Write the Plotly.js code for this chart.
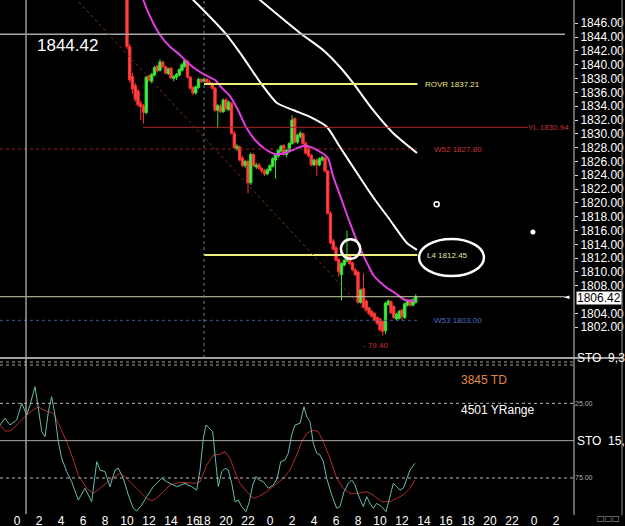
<!DOCTYPE html>
<html><head><meta charset="utf-8">
<script src="https://cdn.plot.ly/plotly-3.0.1.min.js"></script>
<style>html,body{margin:0;padding:0;background:#000;}#chart{width:625px;height:526px;}</style>
</head><body><div id="chart"></div>
<script>
// ---- 15-minute candles (hours on a trading-time axis, 17:00 break removed) ----
const barStartHour = 10;
const barStepHours = 0.25;
const opens = [1853.0,1842.6,1838.3,1837.0,1836.2,1834.4,1834.0,1833.1,1838.4,1837.6,
1838.5,1839.8,1839.2,1840.4,1839.7,1838.7,1839.5,1838.0,1838.2,1838.5,
1839.2,1839.7,1840.5,1838.2,1836.7,1835.9,1836.7,1837.9,1837.6,1837.9,
1837.5,1837.3,1836.6,1833.4,1834.0,1833.2,1834.9,1833.5,1834.4,1830.1,
1827.8,1828.1,1826.5,1825.4,1826.0,1822.9,1827.0,1825.2,1825.5,1825.0,
1824.6,1824.2,1824.7,1825.3,1826.2,1826.8,1827.5,1828.3,1827.0,1827.5,
1828.6,1832.2,1828.8,1829.6,1830.0,1828.6,1827.9,1826.9,1825.5,1826.2,
1825.5,1826.2,1826.5,1824.6,1818.5,1814.5,1813.5,1811.8,1809.6,1811.0,
1811.6,1812.4,1811.3,1810.3,1810.0,1805.6,1807.6,1805.8,1804.8,1804.3,
1804.0,1803.4,1803.2,1802.8,1801.5,1805.3,1805.7,1805.0,1803.2,1803.3,
1804.5,1803.4,1805.2,1805.9,1805.2,1805.6];
const highs = [1853.5,1843.0,1838.8,1837.4,1836.5,1834.8,1834.3,1838.4,1838.6,1838.8,
1839.8,1840.0,1840.8,1840.6,1839.9,1839.6,1839.7,1838.5,1838.8,1839.5,
1840.2,1840.9,1840.7,1838.4,1836.9,1837.0,1838.1,1838.0,1838.2,1838.1,
1837.8,1837.5,1836.8,1834.3,1834.3,1835.1,1835.2,1834.8,1834.6,1830.4,
1828.5,1828.3,1826.8,1826.2,1826.3,1827.3,1827.2,1825.8,1825.8,1825.2,
1824.9,1825.0,1825.6,1826.6,1827.1,1827.8,1828.4,1828.5,1827.8,1828.8,
1832.7,1832.4,1830.0,1830.4,1830.2,1828.9,1828.1,1827.1,1826.4,1826.4,
1826.6,1826.8,1826.7,1824.8,1818.8,1814.8,1813.8,1812.0,1811.4,1811.9,
1816.0,1812.6,1811.5,1810.6,1810.2,1807.6,1809.8,1806.0,1805.0,1804.5,
1804.2,1803.6,1803.4,1803.0,1805.7,1806.0,1805.9,1805.2,1804.1,1804.5,
1804.7,1805.6,1806.0,1806.1,1806.2,1806.8];
const lows = [1842.2,1837.4,1835.8,1834.6,1833.9,1832.0,1831.5,1832.8,1837.5,1837.3,
1838.3,1838.9,1839.0,1839.5,1838.6,1838.5,1837.9,1837.6,1837.8,1838.3,
1839.0,1839.6,1838.0,1836.4,1835.6,1835.7,1836.5,1837.3,1837.4,1837.2,
1837.0,1836.4,1833.2,1830.8,1833.0,1833.0,1833.4,1833.3,1829.9,1827.8,
1827.5,1826.0,1825.2,1825.1,1821.4,1822.6,1825.2,1824.9,1824.8,1824.3,
1823.9,1824.0,1824.5,1825.1,1823.5,1826.5,1827.3,1826.8,1826.6,1827.3,
1828.4,1828.6,1828.5,1829.3,1828.4,1827.0,1826.6,1825.3,1825.3,1823.9,
1825.3,1826.0,1824.4,1818.3,1814.0,1813.1,1811.5,1809.3,1805.9,1810.8,
1811.4,1811.0,1810.1,1809.4,1805.4,1805.4,1804.7,1804.3,1803.8,1803.4,
1802.8,1802.3,1801.4,1800.8,1801.0,1805.1,1803.9,1803.2,1802.9,1803.1,
1803.0,1803.2,1805.0,1805.0,1805.0,1805.4];
const closes = [1842.6,1837.8,1836.5,1835.0,1834.2,1833.9,1833.1,1838.2,1837.8,1838.6,
1839.6,1839.1,1840.4,1839.7,1838.8,1839.4,1838.1,1838.3,1838.6,1839.3,
1840.0,1840.6,1838.2,1836.6,1835.9,1836.8,1837.9,1837.6,1837.9,1837.5,
1837.3,1836.6,1833.4,1834.1,1833.2,1834.9,1833.6,1834.6,1830.1,1828.0,
1828.2,1826.2,1825.4,1826.0,1822.9,1827.0,1825.4,1825.5,1825.0,1824.6,
1824.2,1824.8,1825.4,1826.4,1826.9,1827.6,1828.2,1827.0,1827.6,1828.6,
1832.0,1828.8,1829.8,1830.1,1828.6,1827.2,1826.8,1825.5,1826.2,1825.5,
1826.4,1826.6,1824.6,1818.5,1814.2,1813.3,1811.7,1810.0,1811.2,1811.7,
1812.5,1811.2,1810.3,1809.6,1805.6,1807.4,1804.9,1804.5,1804.0,1803.6,
1803.0,1802.5,1801.6,1801.4,1805.5,1805.8,1804.1,1803.4,1803.9,1804.3,
1803.6,1805.4,1805.8,1805.2,1806.0,1806.42];

// ---- moving averages (hour, price) ----
const maPinkHours = [11.27,11.48,12.39,13.0,13.91,14.82,15.45,16.36,17.27,18.0,18.64,19.36,20.09,20.82,21.64,22.55,23.45,24.36,25.27,26.18,26.91,27.73,28.27,28.73,29.36,30.0,30.55,31.18,31.82,32.45,33.0,33.64,34.36,35.27,36.18];
const maPinkPrices = [1850.53,1849.37,1846.0,1844.31,1842.61,1841.41,1840.40,1839.24,1838.37,1837.79,1836.63,1835.47,1833.45,1830.99,1829.11,1827.80,1827.08,1827.22,1827.80,1828.31,1827.95,1827.22,1826.50,1823.90,1821.15,1818.25,1815.93,1813.47,1811.30,1809.42,1808.55,1807.68,1806.96,1805.94,1805.80];
const maWhite1Hours = [15.55,16.64,18.91,20.55,22.09,23.64,25.09,26.64,28.18,29.36,30.91,32.36,33.91,35.45,36.36];
const maWhite1Prices = [1850.1,1848.4,1844.6,1841.1,1837.5,1834.46,1833.45,1832.44,1830.99,1828.09,1824.33,1820.86,1817.53,1814.2,1813.2];
const maWhite2Hours = [21.55,22.09,25.73,27.82,29.36,30.55,32.36,34.18,36.36];
const maWhite2Prices = [1850.1,1849.37,1844.6,1842.13,1839.67,1837.36,1833.45,1830.12,1827.22];

// ---- stochastic (hour, value) ----
const stoKHours = [-1.55,-1.09,-0.64,-0.03,0.43,0.88,1.18,1.64,1.94,2.25,2.55,2.85,3.15,3.45,3.75,4.06,4.52,4.97,5.57,6.18,6.79,7.25,7.55,8.0,8.45,8.91,9.21,9.66,10.12,10.57,10.88,11.34,11.79,12.39,13.15,13.61,14.52,15.27,15.88,16.34,16.64,16.94,17.18,17.48,17.79,18.0,18.3,18.61,18.91,19.21,19.52,19.82,20.12,20.43,20.82,21.12,21.43,21.73,22.03,22.39,22.85,23.3,23.66,23.97,24.36,24.66,24.97,25.27,25.73,26.09,26.34,26.64,26.94,27.25,27.55,27.85,28.15,28.61,29.06,29.36,29.73,30.12,30.43,30.73,31.03,31.48,31.79,32.09,32.39,32.7,33.15,33.55,33.91,34.21,34.52,34.82,35.12,35.43,35.73,36.18];
const stoKValues = [39.5,35.0,39.5,36.2,25.0,32.8,26.1,13.9,28.3,44.0,47.4,30.6,20.6,32.8,50.7,61.8,70.8,77.5,89.8,81.9,90.9,64.1,69.7,70.8,80.8,69.7,68.5,75.2,86.4,95.3,97.1,93.1,87.5,80.8,75.2,77.5,80.8,78.6,80.8,83.1,69.7,48.4,39.5,41.7,44.0,59.6,80.8,70.8,68.5,69.7,78.6,90.9,89.8,94.2,97.6,90.9,79.7,74.1,76.4,77.5,81.9,79.7,75.2,64.1,63.0,58.5,46.2,39.5,38.4,27.3,34.0,37.3,51.8,58.5,59.6,64.1,75.2,86.4,95.3,94.2,84.2,78.6,76.4,79.7,86.4,94.2,87.5,92.0,95.3,92.0,94.2,97.6,87.5,78.6,80.8,83.1,81.9,75.2,69.7,65.2];
const stoDHours = [-1.55,-1.09,-0.64,-0.18,0.27,0.88,1.48,1.94,2.39,3.3,3.91,4.52,4.97,5.57,6.34,6.94,7.55,8.45,9.36,9.97,10.88,11.79,12.25,12.7,13.3,13.91,14.82,15.73,16.34,16.64,17.25,17.85,18.45,18.91,19.36,19.82,20.27,20.88,21.48,21.94,22.7,23.45,24.21,24.82,25.43,25.88,26.34,26.94,27.39,27.85,28.45,29.06,29.66,30.27,31.03,31.79,32.39,33.15,33.91,34.52,35.12,35.73,36.18];
const stoDValues = [39.5,43.5,43.5,40.7,37.3,32.8,29.5,27.3,29.5,31.7,40.7,50.7,59.6,73.0,81.9,85.3,81.9,76.4,71.9,75.2,81.9,88.6,90.2,88.6,84.2,79.7,77.9,78.6,78.6,77.5,66.3,59.6,59.1,57.4,61.8,70.8,78.6,84.2,88.6,87.5,84.2,79.7,75.2,69.7,59.6,50.7,45.1,42.9,44.0,50.7,61.8,75.2,81.9,85.3,85.3,84.2,86.4,90.9,90.9,88.6,86.4,81.9,76.4];

// ---- axis ticks ----
const timeTickHours = [-1.4,0,2,4,6,8,10,12,14,16,17,19,21,23,25,27,29,31,33,35,37,39,41,43,45,47,49];
const timeTickLabels = ['2','0','2','4','6','8','10','12','14','16','18','20','22','0','2','4','6','8','10','12','14','16','18','20','22','0','2'];
const priceTicks = [1802,1804,1808,1810,1812,1814,1816,1818,1820,1822,1824,1826,1828,1830,1832,1834,1836,1838,1840,1842,1844,1846];
const stoTicks = [25,75];
const stoTickLabels = ['25.00','75.00'];

// ---- levels ----
const crossPrice = 1844.42, crossHour = 0.82;
const lastPrice = 1806.42;
const rovr = 1837.21, yl = 1830.94, w52 = 1827.80, l4 = 1812.45, w53 = 1803.00;
const sessionBreakHour = 17;

const barTimes = opens.map((_, i) => barStartHour + i * barStepHours);
const lastHour = barTimes[barTimes.length - 1];
const FONT = 'Liberation Sans, Arial, sans-serif';

// page geometry helpers (pixels -> paper fractions)
const H = 526, PLOT_BOTTOM = 512, PLOT_RIGHT = 574;
const py = p => (PLOT_BOTTOM - p) / PLOT_BOTTOM;
const px = p => p / PLOT_RIGHT;

const traces = [
  {type:'candlestick', x:barTimes, open:opens, high:highs, low:lows, close:closes,
   increasing:{line:{color:'#33e033', width:1}, fillcolor:'#44f044'},
   decreasing:{line:{color:'#ff3030', width:1}, fillcolor:'#ff4a4a'},
   whiskerwidth:0, hoverinfo:'skip', xaxis:'x', yaxis:'y'},
  {type:'scatter', mode:'lines', x:maPinkHours, y:maPinkPrices, line:{color:'#e23de2', width:2, shape:'spline', smoothing:0.6}, hoverinfo:'skip'},
  {type:'scatter', mode:'lines', x:maWhite1Hours, y:maWhite1Prices, line:{color:'#ffffff', width:2, shape:'spline', smoothing:0.6}, hoverinfo:'skip'},
  {type:'scatter', mode:'lines', x:maWhite2Hours, y:maWhite2Prices, line:{color:'#ffffff', width:2, shape:'spline', smoothing:0.6}, hoverinfo:'skip'},
  {type:'scatter', mode:'markers', x:[38.15], y:[1819.8], marker:{symbol:'circle-open', size:5, color:'#ffffff', line:{width:1.5}}, hoverinfo:'skip'},
  {type:'scatter', mode:'markers', x:[46.9], y:[1815.8], marker:{symbol:'circle', size:5, color:'#ffffff'}, hoverinfo:'skip'},
  {type:'scatter', mode:'lines', x:stoDHours, y:stoDValues, yaxis:'y2', line:{color:'#b02c2c', width:1}, hoverinfo:'skip'},
  {type:'scatter', mode:'lines', x:stoKHours, y:stoKValues, yaxis:'y2', line:{color:'#66bcb0', width:1}, hoverinfo:'skip'}
];

const mainBottom = py(358), stoTop = py(366);
const frameRight = px(622);
const shapes = [
  // levels
  {type:'line', xref:'paper', x0:0, x1:px(565), yref:'y', y0:crossPrice, y1:crossPrice, line:{color:'#a8a8a8', width:1.5}},
  {type:'line', xref:'x', x0:sessionBreakHour, x1:lastHour+0.15, yref:'y', y0:rovr, y1:rovr, line:{color:'#f2ee7a', width:2}},
  {type:'line', xref:'x', x0:11.45, x1:46.45, yref:'y', y0:yl, y1:yl, line:{color:'#a82828', width:1}},
  {type:'line', xref:'paper', x0:0, x1:px(417), yref:'y', y0:w52, y1:w52, line:{color:'#9a2424', width:1, dash:'dot'}},
  {type:'line', xref:'x', x0:sessionBreakHour, x1:lastHour+0.15, yref:'y', y0:l4, y1:l4, line:{color:'#f2ee7a', width:2}},
  {type:'line', xref:'paper', x0:0, x1:px(565), yref:'y', y0:lastPrice, y1:lastPrice, line:{color:'#cfcfa8', width:1}},
  {type:'line', xref:'paper', x0:0, x1:px(417), yref:'y', y0:w53, y1:w53, line:{color:'#3c5a9a', width:1, dash:'dot'}},
  {type:'line', xref:'x', x0:4.5, x1:33.0, yref:'y', y0:1851.0, y1:1802.0, line:{color:'#7c2c2c', width:1, dash:'dot'}},
  {type:'line', xref:'x', x0:sessionBreakHour, x1:sessionBreakHour, yref:'paper', y0:mainBottom, y1:1, line:{color:'#7a7a7a', width:1, dash:'dot'}},
  {type:'line', xref:'x', x0:crossHour, x1:crossHour, yref:'paper', y0:py(514), y1:1, line:{color:'#9c9c9c', width:1.5}},
  // drawn circles
  {type:'circle', xref:'x', yref:'y', x0:36.55, x1:42.45, y0:1809.42, y1:1814.78, line:{color:'#ffffff', width:2.5}},
  {type:'circle', xref:'x', yref:'y', x0:29.45, x1:31.2, y0:1811.9, y1:1814.75, line:{color:'#ffffff', width:2.5}},
  // stochastic levels
  {type:'line', xref:'paper', x0:0, x1:1, yref:'y2', y0:25, y1:25, line:{color:'#b8b8b8', width:1, dash:'dot'}},
  {type:'line', xref:'paper', x0:0, x1:1, yref:'y2', y0:50, y1:50, line:{color:'#a8a8a8', width:1}},
  {type:'line', xref:'paper', x0:0, x1:1, yref:'y2', y0:75, y1:75, line:{color:'#b8b8b8', width:1, dash:'dot'}},
  // frame and separators
  {type:'line', xref:'paper', x0:0, x1:frameRight, yref:'paper', y0:mainBottom, y1:mainBottom, line:{color:'#a0a0a0', width:2}},
  {type:'line', xref:'paper', x0:0, x1:1, yref:'paper', y0:py(362), y1:py(362), line:{color:'#a8a890', width:1, dash:'dot'}},
  {type:'line', xref:'paper', x0:0, x1:1, yref:'paper', y0:py(365), y1:py(365), line:{color:'#a8a890', width:1, dash:'dot'}},
  {type:'line', xref:'paper', x0:1, x1:1, yref:'paper', y0:py(515), y1:1, line:{color:'#c8c8c8', width:1}},
  {type:'line', xref:'paper', x0:frameRight, x1:frameRight, yref:'paper', y0:py(515), y1:1, line:{color:'#909090', width:1}}
];

const small = (t, x, y, color) => ({text:t, xref:'x', yref:'y', x:x, y:y, showarrow:false, font:{family:FONT, size:8, color:color}});
const annotations = [
  {text:'1844.42', xref:'paper', yref:'paper', x:px(35), y:py(45), xanchor:'left', yanchor:'middle', showarrow:false, font:{family:FONT, size:17, color:'#ffffff'}},
  small('ROVR 1837.21', 39.6, rovr, '#e8e47a'),
  small('YL 1830.94', 48.3, yl, '#c83232'),
  small('W52 1827.80', 40.1, w52, '#c83232'),
  small('L4 1812.45', 39.1, l4, '#e8e6a8'),
  small('W53 1803.00', 40.1, w53, '#4a70c8'),
  small('ASI 1848.38', 40.1, 1849.5, '#3cb43c'),
  small('- 79.40', 32.6, 1799.4, '#c83232'),
  {text:'1806.42', xref:'paper', x:1, xanchor:'left', xshift:2, yref:'y', y:lastPrice, yanchor:'middle', yshift:-1, height:12, showarrow:false, bgcolor:'#ffffff', borderpad:0, font:{family:FONT, size:12, color:'#000000'}},
  {text:'◄', xref:'paper', x:1, xanchor:'right', xshift:-2, yref:'y', y:lastPrice, showarrow:false, font:{family:'DejaVu Sans', size:7, color:'#ffffff'}},
  {text:'3845 TD', xref:'paper', yref:'paper', x:px(459), y:py(389), xanchor:'left', showarrow:false, font:{family:FONT, size:12, color:'#e08a40'}},
  {text:'4501 YRange', xref:'paper', yref:'paper', x:px(459), y:py(419), xanchor:'left', showarrow:false, font:{family:FONT, size:12, color:'#ffffff'}},
  {text:'STO  15,', xref:'paper', yref:'y2', x:1, y:50, xanchor:'left', xshift:1, showarrow:false, font:{family:FONT, size:12, color:'#ffffff'}},
  {text:'STO  9,3', xref:'paper', yref:'paper', x:1, y:py(367), xanchor:'left', xshift:1, showarrow:false, font:{family:FONT, size:12, color:'#ffffff'}},
  {text:'□□□', xref:'paper', yref:'paper', x:frameRight, y:py(518), xanchor:'right', yanchor:'middle', showarrow:false, font:{family:'DejaVu Sans', size:8, color:'#aaaaaa'}}
];

const layout = {
  width:625, height:H, margin:{l:0, r:625-PLOT_RIGHT, t:0, b:H-PLOT_BOTTOM},
  paper_bgcolor:'#000000', plot_bgcolor:'#000000', showlegend:false,
  boxgap:0.15, boxgroupgap:0,
  xaxis:{range:[-1.545, 50.636], anchor:'y2', tickmode:'array', tickvals:timeTickHours, ticktext:timeTickLabels, tickangle:0,
         tickfont:{family:FONT, size:12, color:'#ffffff'}, ticks:'', ticklen:0, showgrid:false, zeroline:false, showline:false,
         rangeslider:{visible:false}, fixedrange:true},
  yaxis:{domain:[mainBottom, 1], range:[1797.55, 1849.37], side:'right', anchor:'x', tickmode:'array', tickvals:priceTicks,
         tickformat:'.2f', ticks:'outside', ticklen:3, tickcolor:'#dddddd', tickfont:{family:FONT, size:12, color:'#ffffff'},
         showgrid:false, zeroline:false, showline:false, fixedrange:true},
  yaxis2:{domain:[0, stoTop], range:[(PLOT_BOTTOM-366)/1.493, 0], side:'right', anchor:'x', tickmode:'array', tickvals:stoTicks, ticktext:stoTickLabels,
          tickfont:{family:FONT, size:7, color:'#b0b0b0'}, ticks:'', showgrid:false, zeroline:false, showline:false, fixedrange:true},
  shapes:shapes, annotations:annotations
};

Plotly.newPlot('chart', traces, layout, {staticPlot:true, displayModeBar:false});
</script>
</body></html>
